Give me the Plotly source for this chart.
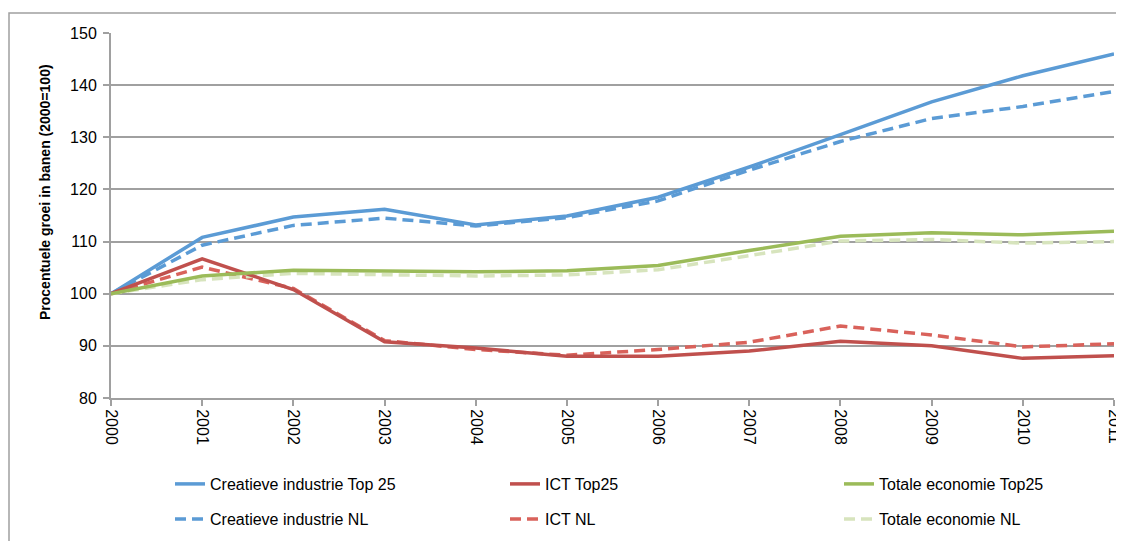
import plotly.graph_objects as go

# jaren en indexcijfers (2000=100)
jaren = list(range(2000, 2012))

creatief_top25 = [100, 110.8, 114.7, 116.2, 113.2, 114.9, 118.5, 124.3, 130.5, 136.8, 141.8, 146.0]
ict_top25 = [100, 106.7, 100.8, 90.8, 89.6, 88.0, 88.0, 89.0, 90.9, 90.0, 87.6, 88.1]
totaal_top25 = [100, 103.4, 104.5, 104.3, 104.2, 104.4, 105.4, 108.3, 111.0, 111.7, 111.3, 112.0]
creatief_nl = [100, 109.3, 113.1, 114.5, 113.0, 114.6, 117.8, 123.7, 129.2, 133.6, 135.9, 138.8]
ict_nl = [100, 105.1, 101.0, 91.0, 89.3, 88.2, 89.3, 90.7, 93.8, 92.1, 89.8, 90.4]
totaal_nl = [100, 102.7, 103.9, 103.7, 103.4, 103.6, 104.6, 107.3, 110.1, 110.4, 109.7, 110.0]

# naam, waarden, kleur, streep
streepjes = "11px,6px"
reeksen = [
    ("Creatieve industrie Top 25", creatief_top25, "#5b9bd5", "solid"),
    ("ICT Top25", ict_top25, "#c0504d", "solid"),
    ("Totale economie Top25", totaal_top25, "#9bbb59", "solid"),
    ("Creatieve industrie NL", creatief_nl, "#5b9bd5", streepjes),
    ("ICT NL", ict_nl, "#d9625b", streepjes),
    ("Totale economie NL", totaal_nl, "#d7e4bd", streepjes),
]

# legenda-plek per reeks (pixels in de figuur): 3 kolommen, 2 rijen
kolom_x = [162, 497, 831]
rij_y = [476, 511]

fig = go.Figure()
legendas = {}
# NL-lijnen eerst tekenen zodat Top25 erboven ligt
volgorde = [3, 4, 5, 0, 1, 2]
for i in volgorde:
    naam, waarden, kleur, streep = reeksen[i]
    leg = "legend" if i == 0 else "legend%d" % (i + 1)
    fig.add_trace(go.Scatter(x=jaren, y=waarden, name=naam, mode="lines",
                             line=dict(color=kleur, width=3.5, dash=streep),
                             legend=leg))
    legendas[leg] = dict(xref="container", yref="container",
                         x=kolom_x[i % 3] / 1124, xanchor="left",
                         y=1 - rij_y[i // 3] / 541, yanchor="middle",
                         font=dict(size=16), bgcolor="rgba(0,0,0,0)")

grijs = "#a0a0a0"
fig.update_layout(
    width=1124, height=541,
    margin=dict(l=103, r=18, t=25, b=151, autoexpand=False),
    paper_bgcolor="white", plot_bgcolor="white",
    font=dict(family="Liberation Sans, Arial", size=16, color="black"),
    showlegend=True,
    xaxis=dict(range=[2000, 2011], tickvals=jaren, ticktext=[str(j) for j in jaren],
               tickangle=90, showgrid=False, showline=True, linecolor=grijs,
               linewidth=2, ticks="outside", ticklen=6, tickcolor=grijs,
               tickwidth=2, zeroline=False, tickfont=dict(size=16)),
    yaxis=dict(range=[80, 150], dtick=10, showgrid=True, gridcolor=grijs,
               gridwidth=2, showline=True, linecolor=grijs, linewidth=2,
               ticks="outside", ticklen=6, tickcolor=grijs, tickwidth=2,
               zeroline=False, tickfont=dict(size=16), ticklabelstandoff=3),
    **legendas,
)

# as-titel als losse tekst (linkerkant)
fig.add_annotation(text="<b>Procentuele groei in banen (2000=100)</b>",
                   xref="paper", yref="paper", x=(37 - 103) / 1003,
                   y=1 - (184 - 25) / 365, textangle=-90, showarrow=False,
                   font=dict(size=14), xanchor="center", yanchor="middle")

# kader om de grafiek
fig.add_shape(type="rect", xref="paper", yref="paper",
              x0=(1 - 103) / 1003, x1=1.05, y0=-0.5, y1=1 + (25 - 5) / 365,
              line=dict(color=grijs, width=1.5), layer="below")

fig.write_html("out.html")
